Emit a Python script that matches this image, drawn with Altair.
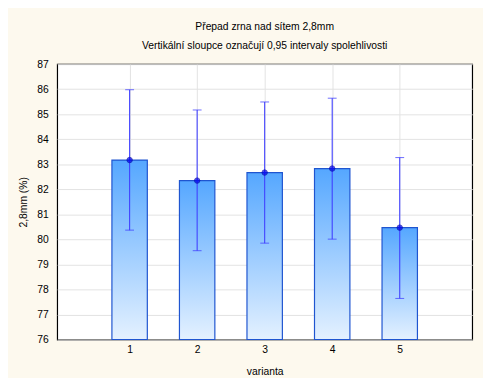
import altair as alt
import pandas as pd

variants = [1, 2, 3, 4, 5]
means = [83.17, 82.35, 82.67, 82.83, 80.47]
lower = [80.37, 79.55, 79.85, 80.01, 77.64]
upper = [85.98, 85.17, 85.49, 85.64, 83.27]
y_ticks = list(range(76, 88))

df = pd.DataFrame({"varianta": variants, "mean": means, "lo": lower, "hi": upper})

FONT = "Liberation Sans"
xscale = alt.Scale(domain=[0, 6], nice=False, zero=False)
yscale = alt.Scale(domain=[76, 87], nice=False, zero=False)

xaxis = alt.Axis(values=variants, title="varianta", format="d", grid=True,
                 gridColor="#e2e2e2", ticks=False, domain=False, labelOverlap=False,
                 labelFont=FONT, labelFontSize=10.5, labelColor="#000",
                 titleFont=FONT, titleFontSize=10.5, titleFontWeight="normal",
                 titleColor="#000", labelPadding=5, titlePadding=12)
yaxis = alt.Axis(values=y_ticks, title="2,8mm (%)", grid=True, gridColor="#e2e2e2",
                 ticks=False, domain=False, labelOverlap=False, labelFont=FONT, labelFontSize=10.5,
                 labelColor="#000", titleFont=FONT, titleFontSize=10.5,
                 titleFontWeight="normal", titleColor="#000", labelPadding=9,
                 titlePadding=8)

X = alt.X("varianta:Q", scale=xscale, axis=xaxis)

base = alt.Chart(df)

bars = base.mark_bar(
    size=36,
    stroke="#1f55d0",
    strokeWidth=1.2,
    color=alt.Gradient(
        gradient="linear",
        stops=[alt.GradientStop(color="#e4f1ff", offset=0), alt.GradientStop(color="#55a7ff", offset=1)],
        x1=0, x2=0, y1=1, y2=0,
    ),
).encode(
    x=X,
    y=alt.Y("mean:Q", scale=yscale, axis=yaxis),
    y2=alt.datum(76),
)

rules = base.mark_rule(color="#4040ff", strokeWidth=1.1).encode(
    x=X, y=alt.Y("lo:Q", scale=yscale, axis=yaxis), y2="hi:Q"
)
cap_lo = base.mark_tick(color="#4040ff", size=9, thickness=1.1, orient="horizontal").encode(
    x=X, y=alt.Y("lo:Q", scale=yscale, axis=yaxis)
)
cap_hi = base.mark_tick(color="#4040ff", size=9, thickness=1.1, orient="horizontal").encode(
    x=X, y=alt.Y("hi:Q", scale=yscale, axis=yaxis)
)
points = base.mark_point(filled=True, color="#0000ee", size=30, stroke="#0000aa", strokeWidth=1).encode(
    x=X, y=alt.Y("mean:Q", scale=yscale, axis=yaxis)
)

chart = alt.layer(bars, rules, cap_lo, cap_hi, points).properties(
    width=422,
    height=280,
    autosize=alt.AutoSizeParams(type="none"),
    padding={"left": 50, "top": 54, "right": 11, "bottom": 36},
    background="#fdf9ee",
    title=alt.TitleParams(
        text=["Přepad zrna nad sítem 2,8mm", "Vertikální sloupce označují 0,95 intervaly spolehlivosti"],
        font=FONT, fontSize=10.5, fontWeight="normal", color="#000",
        lineHeight=19, anchor="middle", offset=8,
    ),
).configure_view(fill="white", stroke="#000", strokeWidth=1.2)

chart.save("out.html", embed_options={"renderer": "svg", "actions": False})
